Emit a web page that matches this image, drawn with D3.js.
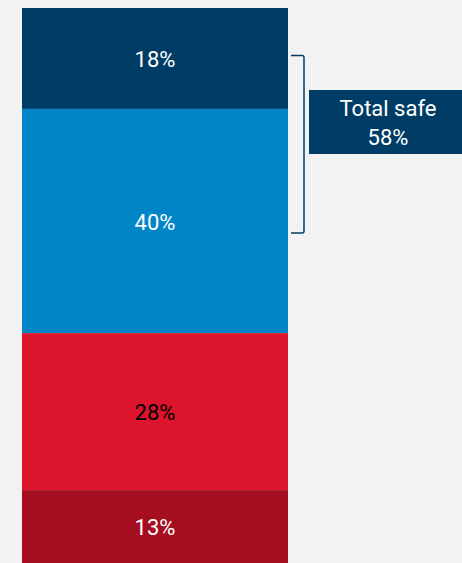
<!DOCTYPE html>
<html>
<head>
<meta charset="utf-8">
<script src="https://cdn.jsdelivr.net/npm/d3@7"></script>
<style>
  html, body { margin: 0; padding: 0; background: #f2f2f2; }
  svg { display: block; }
</style>
</head>
<body>
<div id="chart"></div>
<script>
// Data
const categories = ["Very safe", "Somewhat safe", "Somewhat unsafe", "Very unsafe"];
const values = [18, 40, 28, 13];
const labelColors = ["#ffffff", "#ffffff", "#000000", "#ffffff"];
const fills = ["#003d66", "#0085c7", "#dc142c", "#a50e20"];
const totalLabel = ["Total safe", "58%"];

const W = 462, H = 563;
const svg = d3.select("#chart").append("svg")
  .attr("width", W).attr("height", H);

svg.append("rect").attr("width", W).attr("height", H).attr("fill", "#f2f2f2");

const total = d3.sum(values);
const y = d3.scaleLinear().domain([0, total]).range([8, 563]);
const x = d3.scaleBand().domain(["bar"]).range([22, 288]).padding(0);

let cum = 0;
const segs = values.map((v, i) => {
  const s = { i, v, y0: cum, y1: cum + v };
  cum += v;
  return s;
});

const font = "Roboto, 'Noto Sans', sans-serif";

svg.selectAll("rect.seg").data(segs).enter().append("rect")
  .attr("class", "seg")
  .attr("x", x("bar"))
  .attr("width", x.bandwidth())
  .attr("y", d => y(d.y0))
  .attr("height", d => y(d.y1) - y(d.y0))
  .attr("fill", d => fills[d.i]);

svg.selectAll("text.val").data(segs).enter().append("text")
  .attr("class", "val")
  .attr("x", x("bar") + x.bandwidth() / 2)
  .attr("y", d => (y(d.y0) + y(d.y1)) / 2 + 1)
  .attr("text-anchor", "middle")
  .attr("dominant-baseline", "central")
  .attr("font-family", font)
  .attr("font-size", 22)
  .attr("fill", d => labelColors[d.i])
  .text(d => d.v + "%");

// Bracket spanning the two "safe" segments
const bTop = (y(segs[0].y0) + y(segs[0].y1)) / 2 - 3;
const bBot = (y(segs[1].y0) + y(segs[1].y1)) / 2 + 12;
const bx0 = 291, bx1 = 304;
svg.append("path")
  .attr("d", `M${bx0},${bTop} H${bx1 - 2} Q${bx1},${bTop} ${bx1},${bTop + 2} V${bBot - 2} Q${bx1},${bBot} ${bx1 - 2},${bBot} H${bx0}`)
  .attr("fill", "none")
  .attr("stroke", "#003d66")
  .attr("stroke-width", 1.5);

// Total box
svg.append("rect")
  .attr("x", 309).attr("y", 90)
  .attr("width", W - 309).attr("height", 64)
  .attr("fill", "#003d66");

svg.selectAll("text.tot").data(totalLabel).enter().append("text")
  .attr("class", "tot")
  .attr("x", 388)
  .attr("y", (d, i) => 108 + i * 29)
  .attr("text-anchor", "middle")
  .attr("dominant-baseline", "central")
  .attr("font-family", font)
  .attr("font-size", 22)
  .attr("fill", "#ffffff")
  .text(d => d);
</script>
</body>
</html>
